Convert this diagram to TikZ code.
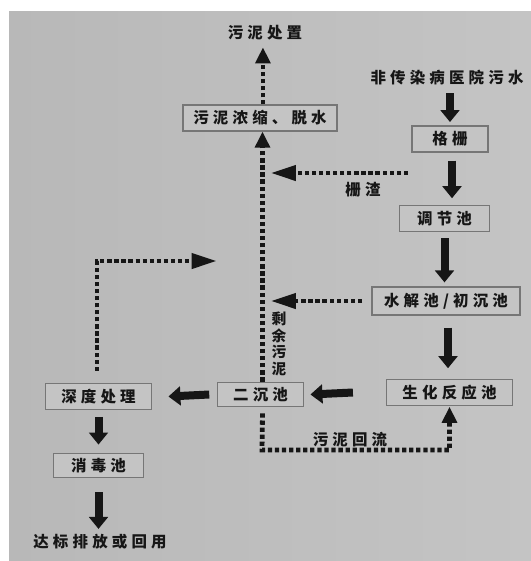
\documentclass[tikz,border=0pt]{standalone}
\usepackage{fontspec}
\usepackage{xcolor}
\usetikzlibrary{arrows.meta}
\newfontfamily\cjk{Noto Sans CJK SC}[LetterSpace=27]
\definecolor{photo}{RGB}{184,184,184}
\definecolor{photolight}{RGB}{196,196,196}
\definecolor{frame}{RGB}{118,118,118}
\definecolor{ink}{RGB}{22,22,22}

\begin{document}
\begin{tikzpicture}[
    x=0.75pt, y=-0.75pt,
    every node/.style={
        font=\cjk\bfseries\fontsize{11.6}{13}\selectfont,
        text=ink,
        inner sep=0pt
    },
    unit/.style={
        rectangle,
        draw=frame,
        line width=0.9pt,
        fill=photolight,
        minimum height=19.5pt
    },
    flow/.style={draw=ink, line width=6pt, -{Triangle[width=14pt,length=9pt]}},
    sludge/.style={draw=ink, line width=3.6pt, dash pattern=on 3.2pt off 2.1pt,
        -{Triangle[width=11pt,length=12pt]}},
    sludgeside/.style={sludge, -{Triangle[width=11pt,length=19pt]}}
]
\useasboundingbox (0,0) rectangle (531,561);

% photographed page
\fill[white] (0,0) rectangle (531,561);
\shade[left color=photo, right color=photolight] (9,11) rectangle (531,561);

% Units
\node[unit, minimum width=115.5pt] (dewater) at (260,118) {污泥浓缩、脱水};
\node[unit, minimum width=57pt]    (screen)  at (450,139) {格栅};
\node[unit, minimum width=67pt]    (equal)   at (444.5,218.5) {调节池};
\node[unit, minimum width=111pt, minimum height=21pt] (hydro) at (446,301) {水解池/初沉池};
\node[unit, minimum width=94pt]    (bio)     at (449.5,392.5) {生化反应池};
\node[unit, minimum width=64pt, minimum height=18.5pt] (settle2) at (260.5,394.5) {二沉池};
\node[unit, minimum width=80pt]    (deep)    at (98.5,396.5) {深度处理};
\node[unit, minimum width=68pt, minimum height=18.5pt] (disinf) at (98.5,465.5) {消毒池};

% Texts
\node (disposal) at (265,33)  {污泥处置};
\node (source)   at (447,78)  {非传染病医院污水};
\node (output)   at (100,542) {达标排放或回用};
\node (residue)  at (363,190) {栅渣};
\node (reflux)   at (350,440) {污泥回流};
\node[align=center, font=\cjk\bfseries\fontsize{11}{12.5}\selectfont] (excess) at (279,344) {剩\\余\\污\\泥};

% Main water flow
\draw[flow] ([yshift=-5.5pt]source.south -| screen.north) -- ([yshift=2.5pt]screen.north);
\draw[flow] ([xshift=1.5pt,yshift=-6pt]screen.south) -- ([xshift=1.5pt,yshift=5pt]screen.south |- equal.north);
\draw[flow] ([yshift=-4.5pt]equal.south) -- ([yshift=3pt]equal.south |- hydro.north);
\draw[flow] ([xshift=1.5pt,yshift=-9pt]hydro.south) -- ([xshift=1.5pt,yshift=8pt]hydro.south |- bio.north);
\draw[flow] ([xshift=-25pt]bio.west) -- ([xshift=5pt]settle2.east);
\draw[flow] ([xshift=-6pt]settle2.west) -- ([xshift=12pt]deep.east);
\draw[flow] ([yshift=-5pt]deep.south) -- ([yshift=6pt]disinf.north);
\draw[flow] ([yshift=-10.5pt]disinf.south) -- ([yshift=4pt]disinf.south |- output.north);

% Sludge lines
\coordinate (grit) at (408,173);
\coordinate (turn) at (97,261);
\coordinate (back) at (262,450);
\draw[sludge] ([xshift=1.5pt]settle2.north) -- ([xshift=1.5pt]settle2.north |- dewater.south);
\draw[sludge] ([xshift=2.2pt]dewater.north) -- ([xshift=2.2pt,yshift=-5pt]dewater.north |- disposal.south);
\draw[sludgeside] (grit) -- ([xshift=7.5pt]grit -| settle2.north);
\draw[sludgeside] ([xshift=-7pt]hydro.west) -- ([xshift=7.5pt]hydro.west -| settle2.north);
\draw[sludgeside] ([yshift=9pt]deep.north -| turn) -- (turn) -- (217,261);
\draw[sludge] ([xshift=1.5pt,yshift=-4.5pt]settle2.south) -- (back) -- (back -| bio.south)
    -- ([yshift=-0.5pt]bio.south);

\end{tikzpicture}
\end{document}
